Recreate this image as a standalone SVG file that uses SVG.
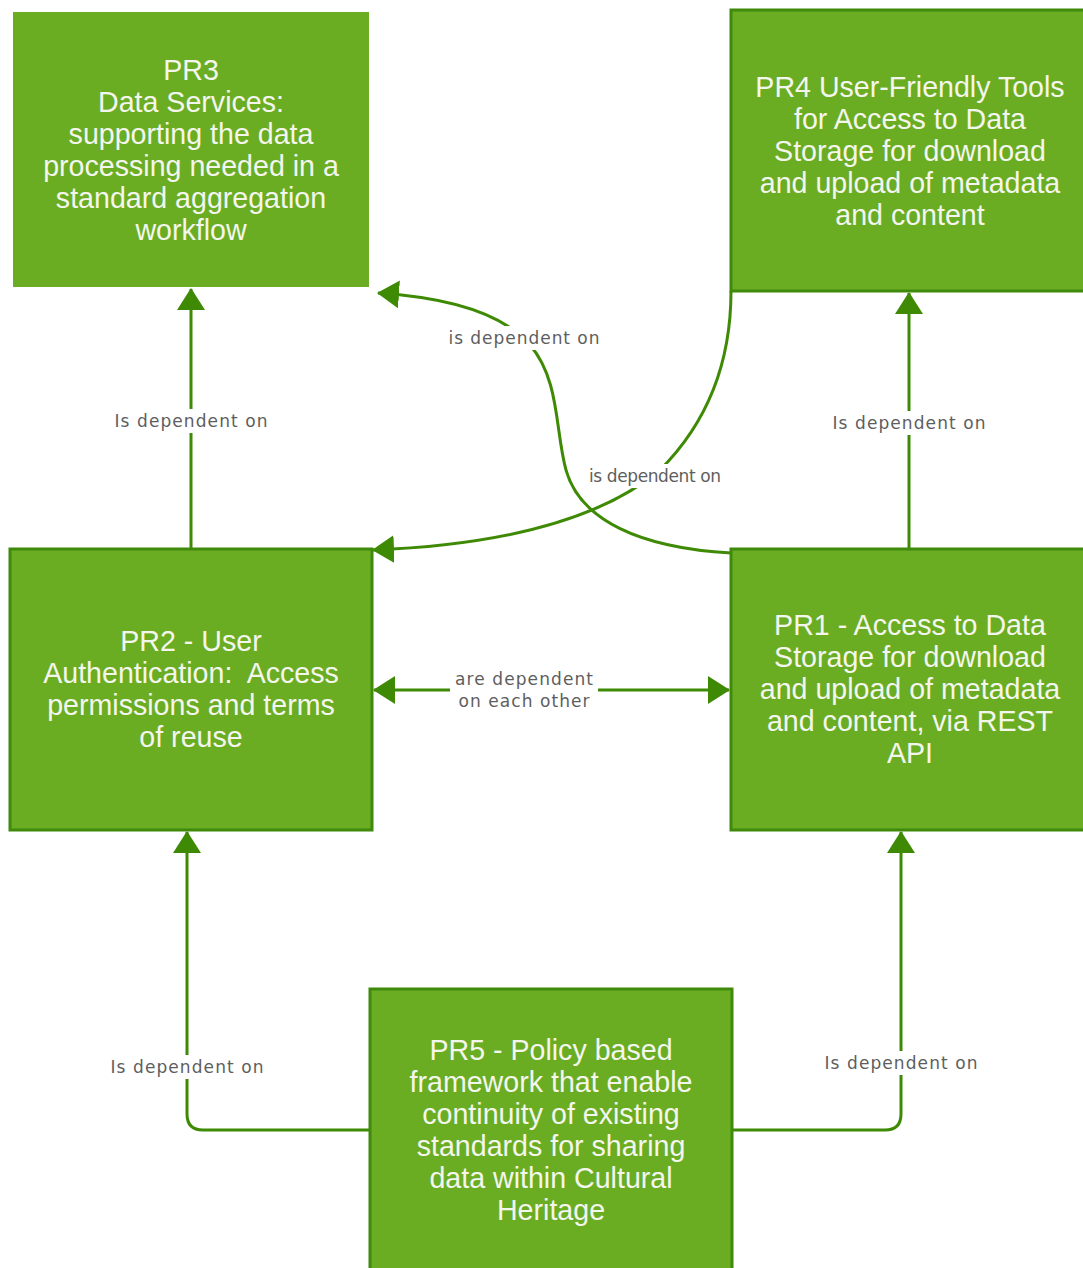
<svg xmlns="http://www.w3.org/2000/svg" width="1083" height="1268" viewBox="0 0 1083 1268">
<style>
.box{fill:#6aad22;stroke:#3f8a0b;stroke-width:3}
.t{font-family:"Liberation Sans",Arial,sans-serif;font-size:28.6px;fill:#f4f6ee;text-anchor:middle}
.c{fill:none;stroke:#3e8a05;stroke-width:3}
.lbl{font-family:"DejaVu Sans",Verdana,sans-serif;font-size:17px;fill:#5e5e5e;text-anchor:middle}
.bg{fill:#ffffff}
</style>
<defs>
<marker id="arr" viewBox="0 0 22 28" refX="21" refY="14" markerWidth="22" markerHeight="28" markerUnits="userSpaceOnUse" orient="auto-start-reverse">
<path d="M0,0 L22,14 L0,28 Z" fill="#3e8a05"/>
</marker>
</defs>
<g id="connectors">
<path class="c" d="M191,549 L191,289" marker-end="url(#arr)"/>
<path class="c" d="M909,549 L909,293" marker-end="url(#arr)"/>
<path class="c" d="M731,553 C640,548 580,520 566,470 C555,430 560,380 530,345 C500,310 440,297 378,293" marker-end="url(#arr)"/>
<path class="c" d="M731,291 C731,360 710,420 660,470 C600,520 500,545 373,550" marker-end="url(#arr)"/>
<path class="c" d="M374,690 L729,690" marker-start="url(#arr)" marker-end="url(#arr)"/>
<path class="c" d="M370,1130 L203,1130 Q187,1130 187,1114 L187,832" marker-end="url(#arr)"/>
<path class="c" d="M732,1130 L885,1130 Q901,1130 901,1114 L901,832" marker-end="url(#arr)"/>
<rect class="bg" x="112" y="409" width="159" height="24"/>
<text class="lbl" x="191" y="427" textLength="153">Is dependent on</text>
<rect class="bg" x="830" y="411" width="159" height="24"/>
<text class="lbl" x="909" y="429" textLength="153">Is dependent on</text>
<rect class="bg" x="445" y="326" width="158" height="24"/>
<text class="lbl" x="524" y="344" textLength="151">is dependent on</text>
<rect class="bg" x="585" y="464" width="139" height="24"/>
<text class="lbl" x="655" y="482" textLength="132">is dependent on</text>
<rect class="bg" x="450" y="667" width="148" height="46"/>
<text class="lbl" x="524" y="685" textLength="138">are dependent</text>
<text class="lbl" x="524" y="707" textLength="131">on each other</text>
<rect class="bg" x="108" y="1055" width="159" height="24"/>
<text class="lbl" x="187" y="1073" textLength="153">Is dependent on</text>
<rect class="bg" x="822" y="1051" width="159" height="24"/>
<text class="lbl" x="901" y="1069" textLength="153">Is dependent on</text>
</g>
<g id="PR3">
<rect x="13" y="12" width="356" height="275" fill="#6aad22"/>
<text class="t" x="191" y="80">PR3</text>
<text class="t" x="191" y="112">Data Services:</text>
<text class="t" x="191" y="144">supporting the data</text>
<text class="t" x="191" y="176">processing needed in a</text>
<text class="t" x="191" y="208">standard aggregation</text>
<text class="t" x="191" y="240">workflow</text>
</g>
<g id="PR4">
<rect class="box" x="731" y="10" width="360" height="281"/>
<text class="t" x="910" y="97">PR4 User-Friendly Tools</text>
<text class="t" x="910" y="129">for Access to Data</text>
<text class="t" x="910" y="161">Storage for download</text>
<text class="t" x="910" y="193">and upload of metadata</text>
<text class="t" x="910" y="225">and content</text>
</g>
<g id="PR2">
<rect class="box" x="10" y="549" width="362" height="281"/>
<text class="t" x="191" y="651">PR2 - User</text>
<text class="t" x="191" y="683">Authentication:&#160; Access</text>
<text class="t" x="191" y="715">permissions and terms</text>
<text class="t" x="191" y="747">of reuse</text>
</g>
<g id="PR1">
<rect class="box" x="731" y="549" width="360" height="281"/>
<text class="t" x="910" y="635">PR1 - Access to Data</text>
<text class="t" x="910" y="667">Storage for download</text>
<text class="t" x="910" y="699">and upload of metadata</text>
<text class="t" x="910" y="731">and content, via REST</text>
<text class="t" x="910" y="763">API</text>
</g>
<g id="PR5">
<rect class="box" x="370" y="989" width="362" height="290"/>
<text class="t" x="551" y="1060">PR5 - Policy based</text>
<text class="t" x="551" y="1092">framework that enable</text>
<text class="t" x="551" y="1124">continuity of existing</text>
<text class="t" x="551" y="1156">standards for sharing</text>
<text class="t" x="551" y="1188">data within Cultural</text>
<text class="t" x="551" y="1220">Heritage</text>
</g>
</svg>
